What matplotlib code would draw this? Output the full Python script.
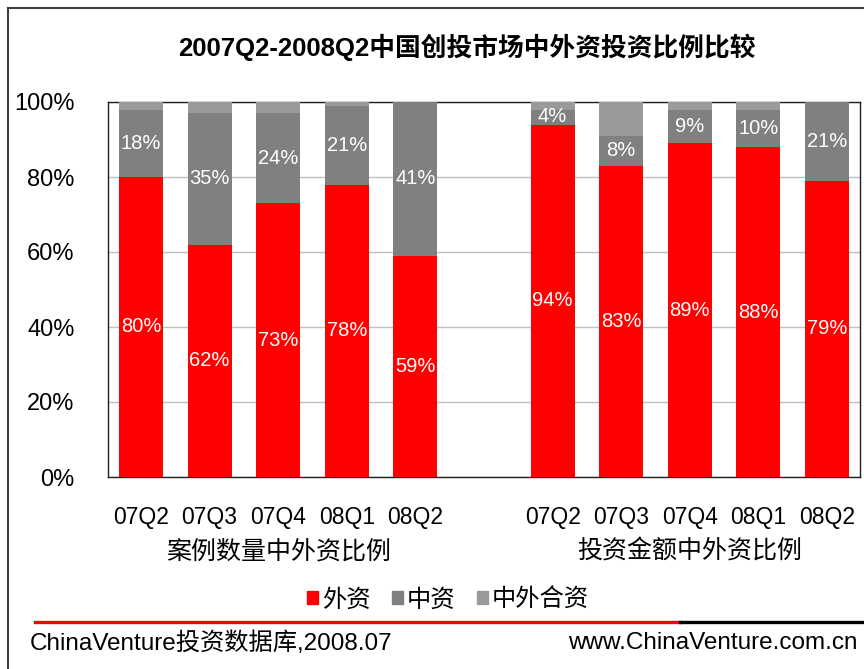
import numpy as np
import matplotlib
matplotlib.use('Agg')
import matplotlib.pyplot as plt
from matplotlib.patches import Patch
from matplotlib.lines import Line2D

plt.rcParams['font.family'] = ['Liberation Sans', 'Noto Sans CJK SC', 'DejaVu Sans']

# ---- data ----
quarters = ['07Q2', '07Q3', '07Q4', '08Q1', '08Q2']
group_names = ['案例数量中外资比例', '投资金额中外资比例']
series_names = ['外资', '中资', '中外合资']

count_foreign = [80, 62, 73, 78, 59]
count_domestic = [18, 35, 24, 21, 41]
count_joint = [2, 3, 3, 1, 0]

amount_foreign = [94, 83, 89, 88, 79]
amount_domestic = [4, 8, 9, 10, 21]
amount_joint = [2, 9, 2, 2, 0]

colors = ['#ff0000', '#808080', '#9a9a9a']

# ---- figure ----
fig = plt.figure(figsize=(8.64, 6.69), dpi=100)
ax = fig.add_axes([108 / 864, 1 - 477 / 669, 752 / 864, 375 / 669])

x_left = np.arange(5)
x_right = np.arange(5) + 6
xs = np.concatenate([x_left, x_right])
foreign = np.array(count_foreign + amount_foreign)
domestic = np.array(count_domestic + amount_domestic)
joint = np.array(count_joint + amount_joint)

w = 0.64
ax.bar(xs, foreign, w, color=colors[0], zorder=3)
ax.bar(xs, domestic, w, bottom=foreign, color=colors[1], zorder=3)
ax.bar(xs, joint, w, bottom=foreign + domestic, color=colors[2], zorder=3)

for xi, f, d in zip(xs, foreign, domestic):
    ax.text(xi, f / 2, f'{f}%', ha='center', va='center', color='white', fontsize=14.5, zorder=4)
    ax.text(xi, f + d / 2, f'{d}%', ha='center', va='center', color='white', fontsize=14.5, zorder=4)

ax.set_xlim(-0.48, 10.48)
ax.set_ylim(0, 100)
ax.set_yticks([0, 20, 40, 60, 80, 100])
ax.set_yticklabels([f'{v}%' for v in [0, 20, 40, 60, 80, 100]], fontsize=17)
ax.set_xticks(xs)
ax.set_xticklabels(quarters * 2, fontsize=16.5)
ax.tick_params(axis='y', length=0, pad=24)
ax.tick_params(axis='x', length=0, pad=21)
ax.yaxis.grid(True, color='#c0c0c0', linewidth=1, zorder=0)
for s in ax.spines.values():
    s.set_color('#202020')
    s.set_linewidth(1)

# group labels
for gx, name in zip([2, 8], group_names):
    ax.text(gx, -19.8, name, ha='center', va='center', fontsize=18,
            transform=ax.transData, clip_on=False)

fig.text(467 / 864, 1 - 47 / 669, '2007Q2-2008Q2中国创投市场中外资投资比例比较',
         ha='center', va='center', fontsize=18.5, fontweight='bold')

handles = [Patch(color=c) for c in colors]
fig.legend(handles, series_names, loc='center', bbox_to_anchor=(448 / 864, 1 - 600 / 669),
           ncol=3, frameon=False, fontsize=17.5, handlelength=0.45, handleheight=0.45,
           handletextpad=0.15, columnspacing=0.9)

# footer rule and text
y_rule = 1 - 622 / 669
fig.add_artist(Line2D([35 / 864, 680 / 864], [y_rule, y_rule], color='#ff0000', lw=2.4))
fig.add_artist(Line2D([680 / 864, 1.0], [y_rule, y_rule], color='#000000', lw=2.4))
fig.text(30 / 864, 1 - 643 / 669, 'ChinaVenture投资数据库,2008.07', ha='left', va='center', fontsize=17.5)
fig.text(858 / 864, 1 - 643 / 669, 'www.ChinaVenture.com.cn', ha='right', va='center', fontsize=17.5)

# outer frame (left and top edges visible)
fig.add_artist(Line2D([8 / 864, 8 / 864], [0, 1 - 8 / 669], color='#404040', lw=1.5))
fig.add_artist(Line2D([8 / 864, 1.0], [1 - 8 / 669, 1 - 8 / 669], color='#404040', lw=1.5))

fig.savefig('out.png', dpi=100)
